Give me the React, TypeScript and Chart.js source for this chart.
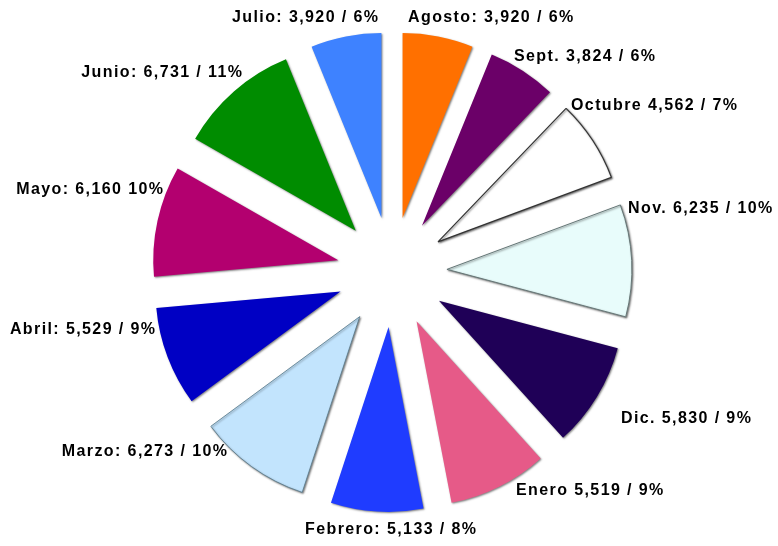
import { useEffect, useRef } from "react";
import { Chart, registerables } from "chart.js";

Chart.register(...registerables);

const months = ["Agosto", "Sept.", "Octubre", "Nov.", "Dic.", "Enero", "Febrero", "Marzo", "Abril", "Mayo", "Junio", "Julio"];
const values = [3920, 3824, 4562, 6235, 5830, 5519, 5133, 6273, 5529, 6160, 6731, 3920];
const labelTexts = [
  "Agosto: 3,920 / 6%",
  "Sept. 3,824 / 6%",
  "Octubre 4,562 / 7%",
  "Nov. 6,235 / 10%",
  "Dic. 5,830 / 9%",
  "Enero 5,519 / 9%",
  "Febrero: 5,133 / 8%",
  "Marzo: 6,273 / 10%",
  "Abril: 5,529 / 9%",
  "Mayo: 6,160 10%",
  "Junio: 6,731 / 11%",
  "Julio: 3,920 / 6%",
];
const colors = ["#ff7000", "#6b0068", "#ffffff", "#e8fcfb", "#1f0057", "#e65a88", "#1f3cff", "#c2e4fd", "#0000c4", "#b3006f", "#008c00", "#3e82ff"];
const borderColors = ["#ff7000", "#6b0068", "#333333", "#667777", "#1f0057", "#e65a88", "#1f3cff", "#557788", "#0000c4", "#b3006f", "#008c00", "#3e82ff"];
const borderWidths = [0, 0, 1.2, 1, 0, 0, 0, 0.8, 0, 0, 0, 0];

// label placement relative to the pie centre: [dx, dy, align]
const labelPlacement: [number, number, CanvasTextAlign][] = [
  [16, -254, "left"],
  [122, -215, "left"],
  [179, -166, "left"],
  [236, -63, "left"],
  [229, 147, "left"],
  [124, 219, "left"],
  [-87, 258, "left"],
  [-165, 180, "right"],
  [-237, 58, "right"],
  [-229, -82, "right"],
  [-150, -199, "right"],
  [-14, -254, "right"],
];

const EXPLODE = 55;

const explodePlugin = {
  id: "explodeSlices",
  beforeDatasetDraw(chart: any, args: any) {
    const ctx = chart.ctx;
    args.meta.data.forEach((arc: any) => {
      const half = (arc.startAngle + arc.endAngle) / 2;
      ctx.save();
      ctx.shadowColor = "rgba(0,0,0,0.5)";
      ctx.shadowBlur = 2;
      ctx.shadowOffsetX = 1;
      ctx.shadowOffsetY = 1;
      ctx.translate(Math.cos(half) * EXPLODE, Math.sin(half) * EXPLODE);
      arc.draw(ctx);
      ctx.restore();
    });
    return false;
  },
};

const labelPlugin = {
  id: "sliceLabels",
  afterDraw(chart: any) {
    const meta = chart.getDatasetMeta(0);
    if (!meta.data.length) return;
    const cx = meta.data[0].x;
    const cy = meta.data[0].y;
    const ctx = chart.ctx;
    ctx.save();
    ctx.font = "bold 16px 'Liberation Sans', Arial, sans-serif";
    try {
      (ctx as any).letterSpacing = "1.4px";
    } catch (e) {}
    ctx.fillStyle = "#000";
    ctx.textBaseline = "middle";
    labelTexts.forEach((t, i) => {
      const [dx, dy, align] = labelPlacement[i];
      ctx.textAlign = align;
      ctx.fillText(t, cx + dx + (align === "right" ? 1.4 : 0), cy + dy);
    });
    ctx.restore();
  },
};

export default function App() {
  const ref = useRef<HTMLCanvasElement | null>(null);
  useEffect(() => {
    if (!ref.current) return;
    const chart = new Chart(ref.current, {
      type: "pie",
      data: {
        labels: months,
        datasets: [
          {
            data: values,
            backgroundColor: colors,
            borderColor: borderColors,
            borderWidth: borderWidths,
            radius: 185,
          } as any,
        ],
      },
      options: {
        animation: false,
        responsive: true,
        maintainAspectRatio: false,
        layout: { padding: { left: 6, right: 0, top: 0, bottom: 2 } },
        plugins: {
          legend: { display: false },
          tooltip: { enabled: false },
        },
      },
      plugins: [explodePlugin, labelPlugin],
    });
    return () => chart.destroy();
  }, []);
  return (
    <div style={{ position: "fixed", left: 0, top: 0, width: 778, height: 546, background: "#fff" }}>
      <canvas ref={ref} />
    </div>
  );
}
